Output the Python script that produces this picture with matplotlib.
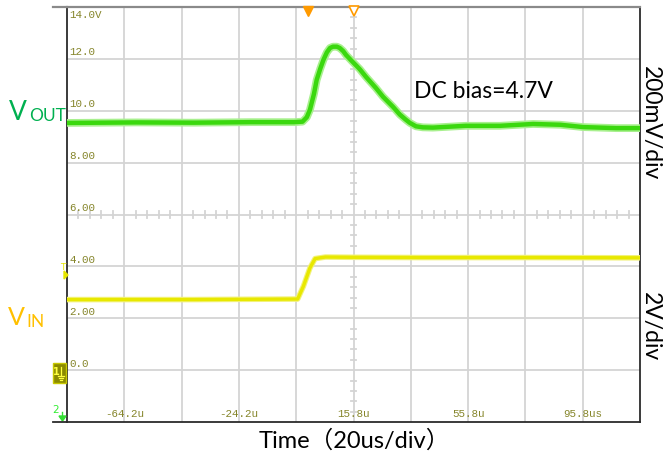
import matplotlib
matplotlib.use("Agg")
import matplotlib.pyplot as plt
from matplotlib.patches import Rectangle, Polygon
from matplotlib.lines import Line2D

# ---------------- data ----------------
# time in us, value expressed on the CH1 screen scale (2 V/div, -2 .. 14)
vout_t = [-84.2, -60.0, -40.0, -20.0, -5.0, -2.0, -0.5, 0.6, 2.0, 2.95, 4.2, 5.3,
          6.5, 7.6, 8.65, 10.0, 11.0, 12.2, 13.2, 14.5, 15.8, 18.0, 20.2, 23.6,
          26.1, 29.6, 32.0, 34.0, 35.5, 37.6, 40.0, 43.5, 55.0, 67.0, 78.5, 88.0,
          96.0, 107.5, 115.8]
vout_v = [9.53, 9.55, 9.54, 9.56, 9.56, 9.58, 9.75, 10.04, 10.65, 11.19, 11.62, 11.96,
          12.25, 12.42, 12.47, 12.47, 12.42, 12.30, 12.15, 12.00, 11.85, 11.60, 11.30,
          10.88, 10.54, 10.15, 9.85, 9.66, 9.53, 9.40, 9.36, 9.35, 9.42, 9.42, 9.49,
          9.46, 9.37, 9.33, 9.33]

vin_t = [-84.2, -40.0, -3.7, -1.7, 0.6, 2.4, 6.0, 15.8, 40.0, 80.0, 115.8]
vin_v = [2.72, 2.72, 2.74, 3.23, 3.94, 4.30, 4.36, 4.35, 4.34, 4.34, 4.33]

y_tick_vals = [14, 12, 10, 8, 6, 4, 2, 0]
y_tick_labels = ["14.0V", "12.0", "10.0", "8.00", "6.00", "4.00", "2.00", "0.0"]
x_tick_vals = [-64.2, -24.2, 15.8, 55.8, 95.8]
x_tick_labels = ["-64.2u", "-24.2u", "15.8u", "55.8u", "95.8us"]

# ---------------- figure ----------------
W, H = 666, 454
fig = plt.figure(figsize=(W / 100, H / 100), dpi=100)
fig.patch.set_facecolor("white")

def fx(x):
    return x / W

def fy(y):
    return 1 - y / H

L, R, T, B = 67, 640, 7, 422
ax = fig.add_axes([fx(L), fy(B), (R - L) / W, (B - T) / H])
xmin, xmax = -84.2, 115.8
ymin, ymax = -2.0, 14.0
ax.set_xlim(xmin, xmax)
ax.set_ylim(ymin, ymax)

grid_c = "#d4d4d4"
for k in range(1, 10):
    ax.axvline(xmin + 20 * k, color=grid_c, lw=1.3, zorder=0)
for k in range(1, 8):
    ax.axhline(ymin + 2 * k, color=grid_c, lw=1.3, zorder=0)

# minor ticks on centre cross
xc, yc = 15.8, 6.0
for k in range(-25, 26):
    xv = xc + 4 * k
    if xmin < xv < xmax and k % 5 != 0:
        ax.plot([xv, xv], [yc - 0.12, yc + 0.12], color=grid_c, lw=1.3, zorder=0)
for k in range(-20, 21):
    yv = yc + 0.4 * k
    if ymin < yv < ymax and k % 5 != 0:
        ax.plot([xc - 1.0, xc + 1.0], [yv, yv], color=grid_c, lw=1.3, zorder=0)

ax.set_xticks([])
ax.set_yticks([])
for s in ["left", "bottom", "right"]:
    ax.spines[s].set_color("#2b2b2b")
    ax.spines[s].set_linewidth(1.3)
ax.spines["top"].set_color("#8a8a8a")
ax.spines["top"].set_linewidth(1.6)

# traces
ax.plot(vin_t, vin_v, color="#f2f27a", lw=4.0, solid_capstyle="butt", zorder=3)
ax.plot(vin_t, vin_v, color="#e8e800", lw=2.4, solid_capstyle="butt", zorder=4)
ax.plot(vout_t, vout_v, color="#a8f08e", lw=5.6, solid_capstyle="butt", zorder=5)
ax.plot(vout_t, vout_v, color="#3ad80e", lw=3.2, solid_capstyle="butt", zorder=6)

# scope labels
lab_c = "#85852a"
fs_lab = 7.8
for v, s in zip(y_tick_vals, y_tick_labels):
    if v == 14:
        ax.text(xmin + 0.9, v - 0.12, s, ha="left", va="top", fontsize=fs_lab,
                family="Liberation Mono", color=lab_c, zorder=7)
    else:
        ax.text(xmin + 0.9, v + 0.06, s, ha="left", va="bottom", fontsize=fs_lab,
                family="Liberation Mono", color=lab_c, zorder=7)
for v, s in zip(x_tick_vals, x_tick_labels):
    ax.text(v, ymin + 0.1, s, ha="center", va="bottom", fontsize=fs_lab,
            family="Liberation Mono", color=lab_c, zorder=7)

# trigger markers at top
ax.plot([0.0], [13.85], marker="v", ms=7, color="#ff9a00", mec="#ff9a00",
        clip_on=False, zorder=8)
ax.plot([15.8], [13.85], marker="v", ms=7, mfc="white", mec="#ff9a00", mew=1.2,
        clip_on=False, zorder=8)

# border extensions to the left
fig.add_artist(Line2D([fx(53), fx(L)], [fy(T), fy(T)], color="#8a8a8a", lw=1.6))
fig.add_artist(Line2D([fx(53), fx(L)], [fy(B), fy(B)], color="#2b2b2b", lw=1.3))

# channel 1 ground marker
fig.add_artist(Rectangle((fx(53), fy(383)), 13 / W, 20 / H, facecolor="#8a8a00",
                         edgecolor="#c8c800", lw=1.0))
fig.text(fx(56.5), fy(372), "1", color="#ffff40", fontsize=7, ha="center",
         va="center", family="DejaVu Sans", weight="bold")
fig.add_artist(Line2D([fx(61), fx(61)], [fy(367), fy(376)], color="#ffff40", lw=0.9))
fig.add_artist(Line2D([fx(58), fx(64)], [fy(376), fy(376)], color="#ffff40", lw=0.9))
fig.add_artist(Line2D([fx(59), fx(63)], [fy(378), fy(378)], color="#ffff40", lw=0.9))
fig.add_artist(Line2D([fx(60), fx(62)], [fy(380), fy(380)], color="#ffff40", lw=0.9))

# channel 2 marker
fig.text(fx(56), fy(410), "2", color="#33ee33", fontsize=7.5, ha="center",
         va="center", family="DejaVu Sans")
fig.add_artist(Polygon([(fx(59), fy(416)), (fx(66), fy(416)), (fx(62.5), fy(421))],
                       closed=True, color="#33dd33"))
fig.add_artist(Line2D([fx(62.5), fx(62.5)], [fy(412), fy(417)], color="#33dd33", lw=1))

# trigger level marker
fig.text(fx(63), fy(267), "T", color="#e6e600", fontsize=6.5, ha="center",
         va="center", family="DejaVu Sans")
fig.add_artist(Polygon([(fx(64), fy(271)), (fx(64), fy(279)), (fx(68), fy(275))],
                       closed=True, color="#e6e600"))

# annotations
txt_family = ["Lato", "Noto Sans CJK SC", "DejaVu Sans"]
fig.text(fx(9), fy(120), "V", color="#00b050", fontsize=19,
         ha="left", va="baseline", family="Lato")
fig.text(fx(29), fy(121), "OUT", color="#00b050", fontsize=12.5,
         ha="left", va="baseline", family="Lato")
fig.text(fx(8), fy(325), "V", color="#ffc000", fontsize=18,
         ha="left", va="baseline", family="Lato")
fig.text(fx(26), fy(327), "IN", color="#ffc000", fontsize=12.5,
         ha="left", va="baseline", family="Lato")
fig.text(fx(483), fy(91), "DC bias=4.7V", color="black", fontsize=16.5,
         ha="center", va="center", family=txt_family)
fig.text(fx(661), fy(123), "200mV/div", color="black", fontsize=16.5, rotation=-90,
         ha="right", va="center", rotation_mode="default", family=txt_family)
fig.text(fx(661), fy(327), "2V/div", color="black", fontsize=16.5, rotation=-90,
         ha="right", va="center", rotation_mode="default", family=txt_family)
fig.text(fx(354), fy(440), "Time（20us/div）", color="black", fontsize=17,
         ha="center", va="center", family=txt_family)

fig.savefig("out.png", dpi=100)
